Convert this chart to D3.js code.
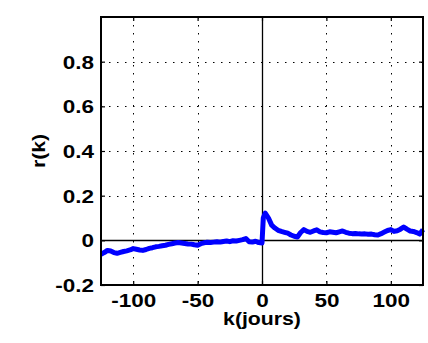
<!DOCTYPE html>
<html><head><meta charset="utf-8">
<script src="https://cdn.jsdelivr.net/npm/d3@7"></script>
<style>body{margin:0;background:#fff}</style>
</head><body><svg id="c" width="428" height="343"></svg>
<script>
const lagK = [-125,-122.5,-120,-117.5,-115,-112.5,-110,-107.5,-105,-102.5,-100,-97.5,-95,-92.5,-90,-87.5,-85,-82.5,-80,-77.5,-75,-72.5,-70,-67.5,-65,-62.5,-60,-57.5,-55,-52.5,-50,-47.5,-45,-42.5,-40,-37.5,-35,-32.5,-30,-27.5,-25,-22.5,-20,-17.5,-15,-12.5,-10,-7.5,-5,-2.5,0,1,2.5,5,7.5,10,12.5,15,17.5,20,22.5,25,27.5,30,32.5,35,37.5,40,42.5,45,47.5,50,52.5,55,57.5,60,62.5,65,67.5,70,72.5,75,77.5,80,82.5,85,87.5,90,92.5,95,97.5,100,102.5,105,107.5,110,112.5,115,117.5,120,122.5,125];
const rValues = [-0.062,-0.055,-0.045,-0.048,-0.055,-0.058,-0.054,-0.050,-0.047,-0.043,-0.037,-0.040,-0.043,-0.045,-0.041,-0.036,-0.033,-0.029,-0.027,-0.024,-0.022,-0.018,-0.015,-0.012,-0.010,-0.012,-0.014,-0.016,-0.017,-0.020,-0.022,-0.015,-0.011,-0.009,-0.010,-0.008,-0.006,-0.008,-0.005,-0.003,-0.006,-0.002,-0.003,0.000,0.003,0.008,-0.006,-0.008,-0.004,-0.010,-0.012,0.10,0.122,0.10,0.068,0.055,0.045,0.040,0.036,0.032,0.024,0.018,0.015,0.035,0.048,0.040,0.036,0.042,0.047,0.038,0.035,0.034,0.038,0.036,0.034,0.038,0.042,0.036,0.032,0.030,0.031,0.029,0.028,0.029,0.027,0.028,0.025,0.024,0.030,0.037,0.044,0.048,0.040,0.043,0.050,0.060,0.050,0.042,0.040,0.035,0.028,0.048];
const xTicks = [-100,-50,0,50,100];
const yTicks = [-0.2,0,0.2,0.4,0.6,0.8];
const xLabel = "k(jours)";
const yLabel = "r(k)";

const L=101,R=423,T=17,B=285, SX=1.25;
const svg=d3.select("#c");
const x=d3.scaleLinear().domain([-125,125]).range([L,R]);
const y=d3.scaleLinear().domain([-0.2,1]).range([B,T]);
const font="'Liberation Sans', Arial, sans-serif";

// grid
const g=svg.append("g");
g.selectAll(".gx").data(xTicks.filter(d=>d!==0)).enter().append("line")
 .attr("x1",d=>Math.round(x(d))+0.5).attr("x2",d=>Math.round(x(d))+0.5).attr("y1",T).attr("y2",B)
 .attr("stroke","#000").attr("stroke-width",1).attr("stroke-dasharray","1.5,6.5");
g.selectAll(".gy").data(yTicks.filter(d=>d!==0 && d!==-0.2)).enter().append("line")
 .attr("y1",d=>Math.round(y(d))+0.5).attr("y2",d=>Math.round(y(d))+0.5).attr("x1",L).attr("x2",R)
 .attr("stroke","#000").attr("stroke-width",1).attr("stroke-dasharray","1.5,6.5");

// zero lines
svg.append("line").attr("x1",L).attr("x2",R).attr("y1",Math.round(y(0))+0.5).attr("y2",Math.round(y(0))+0.5).attr("stroke","#000").attr("stroke-width",1.3);
svg.append("line").attr("x1",Math.round(x(0))+0.5).attr("x2",Math.round(x(0))+0.5).attr("y1",T).attr("y2",B).attr("stroke","#000").attr("stroke-width",1.3);

// data line
svg.append("path").datum(lagK.map((k,i)=>[k,rValues[i]]))
 .attr("d",d3.line().x(d=>x(d[0])).y(d=>y(d[1])))
 .attr("fill","none").attr("stroke","#0000ff").attr("stroke-width",5).attr("stroke-linejoin","round");

// axes
const ax=svg.append("g").attr("transform",`translate(0,${B})`)
 .call(d3.axisBottom(x).tickValues(xTicks).tickSizeInner(-4).tickSizeOuter(0).tickPadding(9).tickFormat(d=>String(d)));
const ay=svg.append("g").attr("transform",`translate(${L},0)`)
 .call(d3.axisLeft(y).tickValues(yTicks).tickSizeInner(-4).tickSizeOuter(0).tickPadding(7).tickFormat(d=>d===0?"0":d3.format(".1f")(d).replace("\u2212","-")));
svg.append("g").attr("transform",`translate(0,${T})`)
 .call(d3.axisTop(x).tickValues(xTicks).tickSizeInner(-4).tickSizeOuter(0).tickFormat(""));
svg.append("g").attr("transform",`translate(${R},0)`)
 .call(d3.axisRight(y).tickValues(yTicks).tickSizeInner(-4).tickSizeOuter(0).tickFormat(""));
svg.selectAll(".domain").remove();
svg.selectAll(".tick line").attr("stroke","#000").attr("stroke-width",1.2);
[ax,ay].forEach(a=>a.selectAll("text").attr("font-family",font).attr("font-weight","bold").attr("font-size",18).attr("fill","#000"));
ax.selectAll("text").attr("dy","0.71em").attr("transform",`scale(${SX},1)`);
ay.selectAll("text").attr("x",-7/SX).attr("dy","0.36em").attr("transform",`scale(${SX},1)`);

// frame
svg.append("rect").attr("x",L).attr("y",T).attr("width",R-L).attr("height",B-T)
 .attr("fill","none").attr("stroke","#000").attr("stroke-width",2);

// labels
svg.append("text").attr("transform",`translate(${(L+R)/2},325) scale(1.18,1)`).attr("text-anchor","middle")
 .attr("font-family",font).attr("font-weight","bold").attr("font-size",18).text(xLabel);
svg.append("text").attr("transform",`translate(45,${(T+B)/2}) rotate(-90) scale(1.18,1)`).attr("text-anchor","middle")
 .attr("font-family",font).attr("font-weight","bold").attr("font-size",18).text(yLabel);
</script></body></html>
